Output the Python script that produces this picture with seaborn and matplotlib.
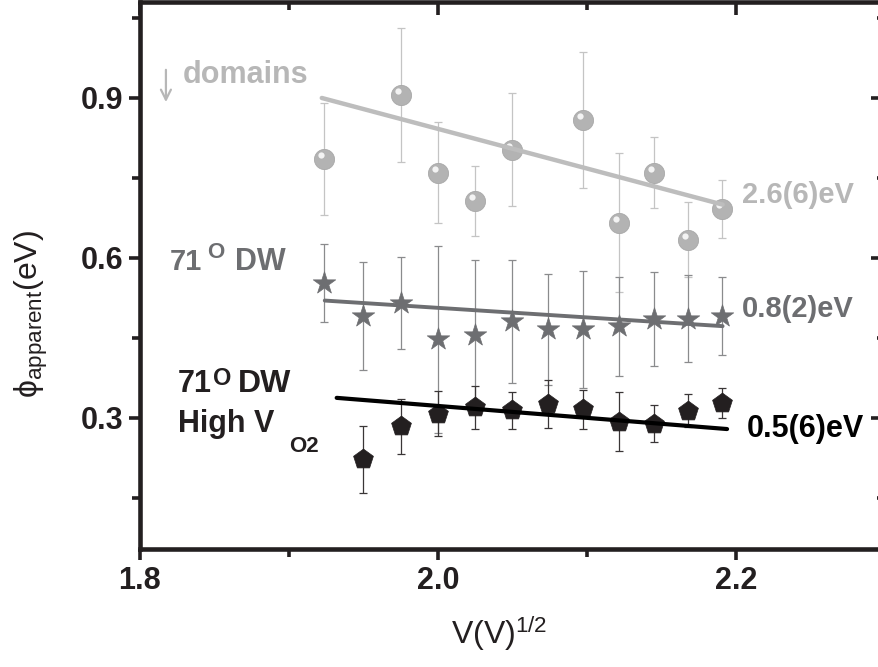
import numpy as np
import matplotlib
matplotlib.use("Agg")
import matplotlib.pyplot as plt
import matplotlib.transforms as mtransforms
import seaborn as sns

# ---- data: bias voltages (V) and apparent barrier heights (eV) ----
v_domains = [3.7, 3.9, 4.0, 4.1, 4.2, 4.4, 4.5, 4.6, 4.7, 4.8]
phi_domains = [0.786, 0.905, 0.760, 0.707, 0.803, 0.859, 0.666, 0.760, 0.634, 0.692]
err_domains = [0.105, 0.126, 0.095, 0.065, 0.106, 0.127, 0.130, 0.066, 0.070, 0.054]

v_dw = [3.7, 3.8, 3.9, 4.0, 4.1, 4.2, 4.3, 4.4, 4.5, 4.6, 4.7, 4.8]
phi_dw = [0.553, 0.491, 0.516, 0.447, 0.456, 0.481, 0.466, 0.466, 0.472, 0.486, 0.486, 0.491]
err_dw = [0.073, 0.102, 0.086, 0.175, 0.140, 0.116, 0.104, 0.110, 0.093, 0.088, 0.082, 0.074]

v_dw_hv = [3.8, 3.9, 4.0, 4.1, 4.2, 4.3, 4.4, 4.5, 4.6, 4.7, 4.8]
phi_dw_hv = [0.222, 0.284, 0.308, 0.320, 0.314, 0.326, 0.316, 0.293, 0.289, 0.313, 0.328]
err_dw_hv = [0.063, 0.051, 0.042, 0.040, 0.035, 0.045, 0.036, 0.056, 0.035, 0.031, 0.028]

# linear fits (end points)
fit_domains_x = [1.922, 2.191]
fit_domains_y = [0.900, 0.700]
fit_dw_x = [1.924, 2.191]
fit_dw_y = [0.520, 0.472]
fit_dw_hv_x = [1.932, 2.194]
fit_dw_hv_y = [0.3375, 0.279]

x_ticks = [1.8, 2.0, 2.2]
y_ticks = [0.3, 0.6, 0.9]

LIGHT = "#b7b7b7"
MID = "#6d6e71"
DARK = "#231f20"

sns.set_theme(style="ticks")
plt.rcParams["font.family"] = ["Liberation Sans", "DejaVu Sans"]
plt.rcParams["mathtext.fontset"] = "custom"
plt.rcParams["mathtext.rm"] = "Liberation Sans"
plt.rcParams["mathtext.it"] = "Liberation Sans:italic"
plt.rcParams["mathtext.bf"] = "Liberation Sans:bold"

fig = plt.figure(figsize=(8.79, 6.67), dpi=100)
ax = fig.add_axes([140 / 879, 1 - 549 / 667, 745 / 879, 547 / 667])

x_dom = np.sqrt(v_domains)
x_dw = np.sqrt(v_dw)
x_hv = np.sqrt(v_dw_hv)

# error bars
ax.errorbar(x_dom, phi_domains, yerr=err_domains, fmt="none", ecolor="#c4c4c4",
            elinewidth=0.9, capsize=3, capthick=0.9, zorder=2)
ax.errorbar(x_dw, phi_dw, yerr=err_dw, fmt="none", ecolor="#8a8b8d",
            elinewidth=0.9, capsize=3, capthick=0.9, zorder=2)
ax.errorbar(x_hv, phi_dw_hv, yerr=err_dw_hv, fmt="none", ecolor="#3a3637",
            elinewidth=0.9, capsize=3, capthick=0.9, zorder=2)

# markers
sns.scatterplot(x=x_dom, y=phi_domains, ax=ax, marker="o", s=14.5 ** 2,
                color="#b3b3b3", edgecolor="#a8a8a8", linewidth=0.6, zorder=3)
hl = mtransforms.offset_copy(ax.transData, fig=fig, x=-3, y=4, units="dots")
ax.scatter(x_dom, phi_domains, s=4.5 ** 2, color="white", alpha=0.85,
           linewidths=0, transform=hl, zorder=4)
sns.scatterplot(x=x_dw, y=phi_dw, ax=ax, marker="*", s=17 ** 2,
                color=MID, edgecolor=MID, linewidth=0.5, zorder=3)
sns.scatterplot(x=x_hv, y=phi_dw_hv, ax=ax, marker="p", s=15 ** 2,
                color=DARK, edgecolor=DARK, linewidth=0.5, zorder=3)

# fit lines
sns.lineplot(x=fit_domains_x, y=fit_domains_y, ax=ax, color="#bdbdbd", lw=3.2, zorder=5)
sns.lineplot(x=fit_dw_x, y=fit_dw_y, ax=ax, color=MID, lw=2.8, zorder=5)
sns.lineplot(x=fit_dw_hv_x, y=fit_dw_hv_y, ax=ax, color="black", lw=3.0, zorder=5)

ax.set_xlim(1.8, 2.3)
ax.set_ylim(0.054, 1.08)

# axes frame and ticks
for sp in ax.spines.values():
    sp.set_visible(True)
    sp.set_linewidth(3.3)
    sp.set_color(DARK)
ax.set_xticks(x_ticks)
ax.set_xticks([1.9, 2.1], minor=True)
ax.set_yticks(y_ticks)
ax.set_yticks([0.15, 0.45, 0.75, 1.05], minor=True)
ax.set_xticklabels([f"{t:.1f}" for t in x_ticks])
ax.set_yticklabels([f"{t:.1f}" for t in y_ticks])
ax.tick_params(which="major", direction="out", length=8, width=2.6, color=DARK,
               labelsize=22, labelcolor=DARK, pad=4)
ax.tick_params(which="minor", direction="out", length=6, width=2.6, color=DARK)
for lab in ax.get_xticklabels() + ax.get_yticklabels():
    lab.set_fontweight("bold")

top = ax.secondary_xaxis("top")
top.set_xticks(x_ticks)
top.set_xticks([1.9, 2.1], minor=True)
top.tick_params(which="major", direction="in", length=9, width=2.6, color=DARK, labeltop=False)
top.tick_params(which="minor", direction="in", length=6, width=2.6, color=DARK)
top.spines["top"].set_visible(False)
right = ax.secondary_yaxis("right")
right.set_yticks(y_ticks)
right.set_yticks([0.15, 0.45, 0.75, 1.05], minor=True)
right.tick_params(which="major", direction="in", length=10, width=2.6, color=DARK, labelright=False)
right.tick_params(which="minor", direction="in", length=6, width=2.6, color=DARK)
right.spines["right"].set_visible(False)

ax.set_xlabel(r"V(V)$^{1/2}$", fontsize=23, color=DARK)
ax.xaxis.set_label_coords(0.482, -0.118)
ax.set_ylabel(r"$\mathrm{\phi}_{\mathrm{apparent}}$(eV)", fontsize=23, color=DARK)
ax.yaxis.set_label_coords(-0.121, 0.43)

# annotations
bold = dict(fontweight="bold", va="baseline", ha="left")
ax.text(1.829, 0.928, "domains", fontsize=22, color=LIGHT, **bold)
ax.annotate("", xy=(1.8174, 0.887), xytext=(1.8174, 0.958),
            arrowprops=dict(arrowstyle="->", color=LIGHT, lw=1.6, mutation_scale=18))

ax.text(1.8201, 0.5775, "71", fontsize=21, color=MID, **bold)
ax.text(1.8450, 0.6000, "O", fontsize=16, color=MID, **bold)
ax.text(1.8638, 0.5775, "DW", fontsize=22, color=MID, **bold)

ax.text(1.8255, 0.3487, "71", fontsize=22, color=DARK, **bold)
ax.text(1.8490, 0.3618, "O", fontsize=17, color=DARK, **bold)
ax.text(1.8658, 0.3487, "DW", fontsize=23, color=DARK, **bold)
ax.text(1.8255, 0.2737, "High V", fontsize=22, color=DARK, **bold)
ax.text(1.9000, 0.2362, "O2", fontsize=16, color=DARK, **bold)

ax.text(2.204, 0.703, "2.6(6)eV", fontsize=21, color=LIGHT, **bold)
ax.text(2.204, 0.4894, "0.8(2)eV", fontsize=21, color=MID, **bold)
ax.text(2.2074, 0.2643, "0.5(6)eV", fontsize=22, color="black", **bold)

fig.savefig("out.png", dpi=100)
